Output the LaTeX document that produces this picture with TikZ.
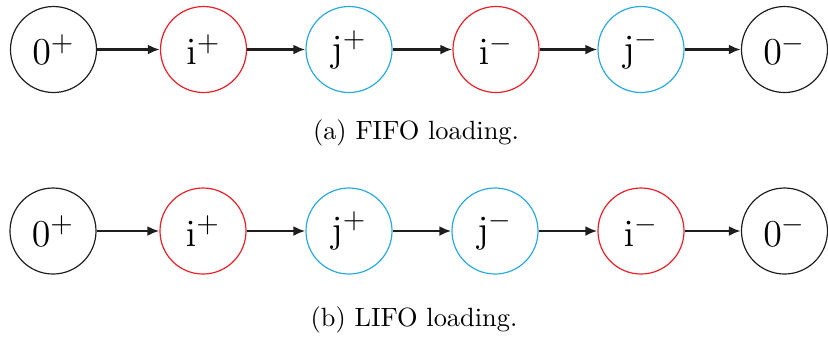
\documentclass[tikz,border=0pt]{standalone}
\usetikzlibrary{arrows.meta}
\definecolor{nodered}{RGB}{235,30,40}
\definecolor{nodeblue}{RGB}{40,170,225}
\definecolor{nodeblack}{RGB}{30,30,30}
\begin{document}
\begin{tikzpicture}[x=0.379pt,y=-0.379pt,
  st/.style={circle,draw,line width=0.45pt,minimum size=32.6pt,inner sep=0pt,font=\fontsize{15}{18}\selectfont},
  blk/.style={st,draw=nodeblack},
  rd/.style={st,draw=nodered},
  bl/.style={st,draw=nodeblue},
  conn/.style={line width=1.05pt,draw=nodeblack,-{Latex[length=4.6pt,width=3.8pt]}},
  captxt/.style={font=\fontsize{10}{12}\selectfont}]
\useasboundingbox (0,0) rectangle (828,337);
% row a
\node[blk] (a1) at (53.5,49.5) {$0^{+}$};
\node[rd]  (a2) at (203.5,49.5) {$\mathrm{i}^{+}$};
\node[bl]  (a3) at (349,49.5) {$\mathrm{j}^{+}$};
\node[rd]  (a4) at (496,49.5) {$\mathrm{i}^{-}$};
\node[bl]  (a5) at (641,49.5) {$\mathrm{j}^{-}$};
\node[blk] (a6) at (784.5,49.5) {$0^{-}$};
\foreach \p/\q in {a1/a2,a2/a3,a3/a4,a4/a5,a5/a6} \draw[conn] (\p) -- (\q);
\node[captxt] (ca) at (416,133) {(a) FIFO loading.};
% row b
\node[blk] (b1) at (53,231) {$0^{+}$};
\node[rd]  (b2) at (203,231) {$\mathrm{i}^{+}$};
\node[bl]  (b3) at (349,231) {$\mathrm{j}^{+}$};
\node[bl]  (b4) at (495,231) {$\mathrm{j}^{-}$};
\node[rd]  (b5) at (641,231) {$\mathrm{i}^{-}$};
\node[blk] (b6) at (784.5,231) {$0^{-}$};
\foreach \p/\q in {b1/b2,b2/b3,b3/b4,b4/b5,b5/b6} \draw[conn] (\p) -- (\q);
\node[captxt] (cb) at (414,320) {(b) LIFO loading.};
\end{tikzpicture}
\end{document}
